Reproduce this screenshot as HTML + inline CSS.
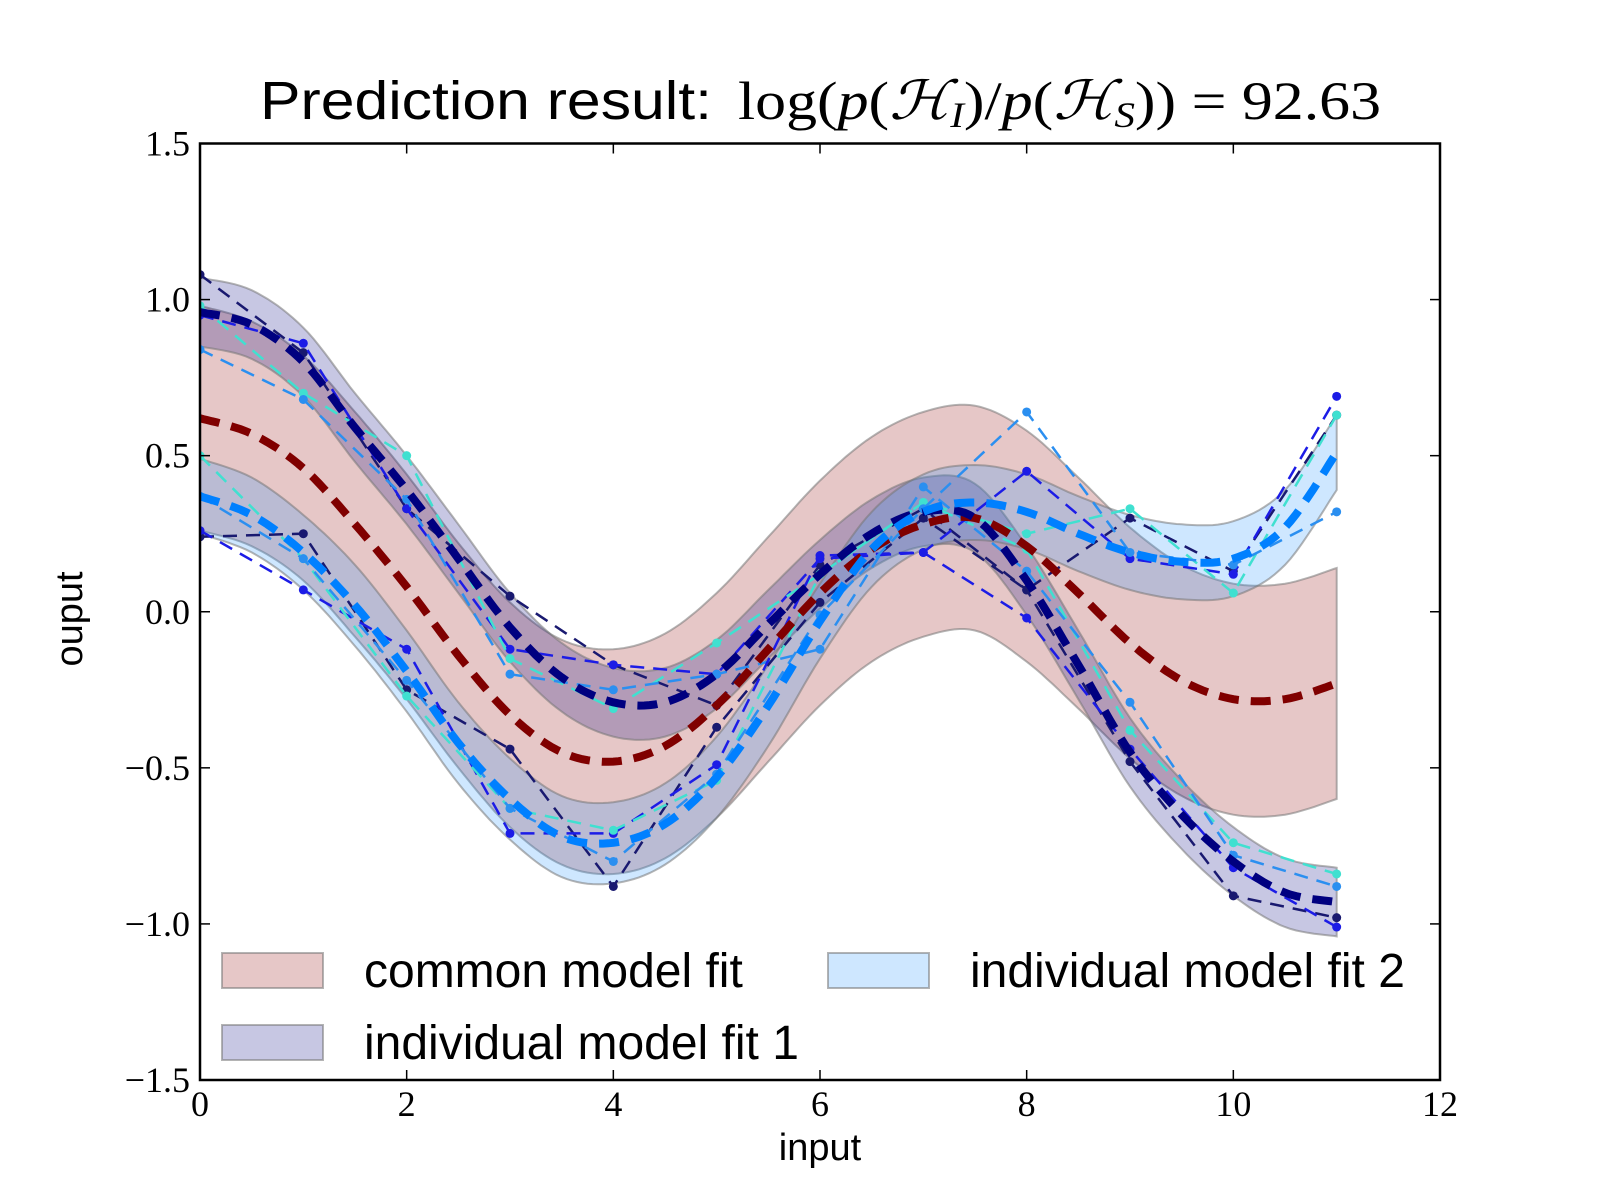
<!DOCTYPE html>
<html><head><meta charset="utf-8"><style>
html,body{margin:0;padding:0;background:#fff;}
svg{display:block;}
</style></head><body>
<svg id="chart" width="1600" height="1200" viewBox="0 0 1600 1200" xmlns="http://www.w3.org/2000/svg">
<rect width="1600" height="1200" fill="#fff"/>
<g>
<text x="260" y="119" font-family="Liberation Sans, sans-serif" font-size="54" textLength="452" lengthAdjust="spacingAndGlyphs">Prediction result:</text>
<text x="738" y="119" font-family="Liberation Serif, serif" font-size="54" textLength="643" lengthAdjust="spacingAndGlyphs">log(<tspan font-style="italic">p</tspan>(<tspan font-style="italic">ℋ</tspan><tspan font-style="italic" font-size="36" dy="8">I</tspan><tspan dy="-8">)/</tspan><tspan font-style="italic">p</tspan>(<tspan font-style="italic">ℋ</tspan><tspan font-style="italic" font-size="36" dy="8">S</tspan><tspan dy="-8">)) = 92.63</tspan></text>
</g>
<defs><clipPath id="plotclip"><rect x="200" y="143.5" width="1240" height="936.5"/></clipPath></defs>
<g id="bands" clip-path="url(#plotclip)"></g>
<g id="reps" clip-path="url(#plotclip)"></g>
<g id="means" clip-path="url(#plotclip)"></g>
<g id="axes"></g>
<g id="legend"></g>
<text x="820" y="1160" text-anchor="middle" font-family="Liberation Sans, sans-serif" font-size="38">input</text>
<text transform="translate(82,619) rotate(-90)" text-anchor="middle" font-family="Liberation Sans, sans-serif" font-size="38">ouput</text>
</svg>
<script>
const gridX = [0,0.5,1,1.5,2,2.5,3,3.5,4,4.5,5,5.5,6,6.5,7,7.5,8,8.5,9,9.5,10,10.5,11];
const commonMean = [0.62,0.57,0.46,0.28,0.08,-0.14,-0.33,-0.45,-0.48,-0.43,-0.3,-0.12,0.06,0.2,0.28,0.3,0.21,0.06,-0.1,-0.22,-0.28,-0.28,-0.23];
const commonStd = [0.36,0.36,0.36,0.36,0.36,0.36,0.36,0.36,0.36,0.36,0.36,0.36,0.36,0.36,0.36,0.36,0.37,0.37,0.37,0.37,0.37,0.37,0.37];
const model1Mean = [0.96,0.92,0.8,0.59,0.39,0.17,-0.05,-0.21,-0.29,-0.29,-0.2,-0.04,0.12,0.25,0.32,0.3,0.1,-0.17,-0.45,-0.65,-0.8,-0.9,-0.93];
const model1Std = [0.11,0.11,0.11,0.11,0.11,0.11,0.11,0.11,0.11,0.11,0.11,0.11,0.11,0.11,0.11,0.11,0.11,0.11,0.11,0.11,0.11,0.11,0.11];
const model2Mean = [0.37,0.31,0.19,0.02,-0.19,-0.42,-0.6,-0.72,-0.74,-0.68,-0.53,-0.3,-0.03,0.2,0.32,0.35,0.32,0.25,0.19,0.16,0.17,0.27,0.51];
const model2Std = [0.12,0.12,0.12,0.13,0.13,0.13,0.13,0.13,0.13,0.13,0.13,0.13,0.12,0.12,0.12,0.12,0.12,0.12,0.12,0.12,0.12,0.12,0.12];
const obsX = [0,1,2,3,4,5,6,7,8,9,10,11];
const m1r1 = [1.08,0.83,0.33,0.05,-0.17,-0.3,0.15,0.33,0.07,-0.48,-0.91,-0.98];
const m1r2 = [0.95,0.86,0.33,-0.12,-0.17,-0.2,0.17,0.19,-0.02,-0.44,-0.82,-1.01];
const m1r3 = [0.98,0.7,0.5,-0.15,-0.31,-0.1,0.12,0.35,0.2,-0.38,-0.74,-0.84];
const m1r4 = [0.84,0.68,0.36,-0.2,-0.25,-0.2,-0.12,0.4,0.13,-0.29,-0.78,-0.88];
const m2r1 = [0.24,0.25,-0.25,-0.44,-0.88,-0.37,0.03,0.3,0.07,0.3,0.13,0.63];
const m2r2 = [0.26,0.07,-0.12,-0.71,-0.71,-0.49,0.18,0.19,0.45,0.17,0.12,0.69];
const m2r3 = [0.5,0.17,-0.27,-0.63,-0.7,-0.54,0.12,0.35,0.25,0.33,0.06,0.63];
const m2r4 = [0.37,0.17,-0.22,-0.63,-0.8,-0.52,-0.01,0.33,0.64,0.19,0.15,0.32];
const xTicks = [0,2,4,6,8,10,12];
const xTickLabels = ["0","2","4","6","8","10","12"];
const yTicks = [-1.5,-1.0,-0.5,0.0,0.5,1.0,1.5];
const yTickLabels = ["\u22121.5","\u22121.0","\u22120.5","0.0","0.5","1.0","1.5"];

const L=200,R=1440,T=143.5,B=1080;
const sx = v => L + (v-0)/(12-0)*(R-L);
const sy = v => B - (v-(-1.5))/(3)*(B-T);
const NS='http://www.w3.org/2000/svg';
function mk(tag, attrs, parent){const e=document.createElementNS(NS,tag);for(const k in attrs)e.setAttribute(k,attrs[k]);parent.appendChild(e);return e;}
function smoothPts(xs, ys){
  const out=[];
  for(let i=0;i<xs.length-1;i++){
    const p0=[xs[Math.max(i-1,0)],ys[Math.max(i-1,0)]],p1=[xs[i],ys[i]],p2=[xs[i+1],ys[i+1]],p3=[xs[Math.min(i+2,xs.length-1)],ys[Math.min(i+2,xs.length-1)]];
    for(let s=0;s<10;s++){const t=s/10,t2=t*t,t3=t2*t;
      const f=(a,b,c,d)=>0.5*((2*b)+(-a+c)*t+(2*a-5*b+4*c-d)*t2+(-a+3*b-3*c+d)*t3);
      out.push([f(p0[0],p1[0],p2[0],p3[0]),f(p0[1],p1[1],p2[1],p3[1])]);}
  }
  out.push([xs[xs.length-1],ys[ys.length-1]]);
  return out;
}
const toPath = pts => pts.map((p,i)=>(i?'L':'M')+sx(p[0]).toFixed(1)+','+sy(p[1]).toFixed(1)).join('');

const bands=document.getElementById('bands');
function band(mean,std,color,name){
  const up=smoothPts(gridX,mean.map((m,i)=>m+std[i]));
  const lo=smoothPts(gridX,mean.map((m,i)=>m-std[i])).reverse();
  const p=mk('path',{d:toPath(up)+toPath(lo).replace('M','L')+'Z',fill:color,'fill-opacity':0.22,stroke:'#777','stroke-opacity':0.55,'stroke-width':2},bands);
  
  
}
band(commonMean,commonStd,'#8b0000','common-model-band');
band(model1Mean,model1Std,'#000080','individual-model-1-band');
band(model2Mean,model2Std,'#1e90ff','individual-model-2-band');

const reps=document.getElementById('reps');
const repSets=[[m1r1,'#191970'],[m1r2,'#1c1ce6'],[m1r3,'#40e0d0'],[m1r4,'#2b8ff0'],[m2r1,'#191970'],[m2r2,'#1c1ce6'],[m2r3,'#40e0d0'],[m2r4,'#2b8ff0']];
repSets.forEach((rs,k)=>{
  const g=mk('g',{},reps);
  
  
  const d=rs[0].map((v,i)=>(i?'L':'M')+sx(obsX[i]).toFixed(1)+','+sy(v).toFixed(1)).join('');
  mk('path',{d:d,fill:'none',stroke:rs[1],'stroke-width':2.5,'stroke-dasharray':'14 9'},g);
  rs[0].forEach((v,i)=>{
    const c=mk('circle',{cx:sx(obsX[i]),cy:sy(v),r:4.5,fill:rs[1]},g);
    
    
  });
});

const means=document.getElementById('means');
function meanLine(mean,color,name){
  const p=mk('path',{d:toPath(smoothPts(gridX,mean)),fill:'none',stroke:color,'stroke-width':8,'stroke-dasharray':'20 12'},means);
  
  
}
meanLine(commonMean,'#800000','common-model-mean');
meanLine(model1Mean,'#000080','individual-model-1-mean');
meanLine(model2Mean,'#0080ff','individual-model-2-mean');

const axes=document.getElementById('axes');
const frame=mk('rect',{x:L,y:T,width:R-L,height:B-T,fill:'none',stroke:'#000','stroke-width':2.5},axes);


xTicks.forEach((v,i)=>{
  const x=sx(v);
  mk('line',{x1:x,y1:B,x2:x,y2:B-10,stroke:'#000','stroke-width':1.5},axes);
  mk('line',{x1:x,y1:T,x2:x,y2:T+10,stroke:'#000','stroke-width':1.5},axes);
  const t=mk('text',{x:x,y:B+36,'text-anchor':'middle','font-family':'Liberation Serif, serif','font-size':36},axes);
  t.textContent=xTickLabels[i];
  
  
});
yTicks.forEach((v,i)=>{
  const y=sy(v);
  mk('line',{x1:L,y1:y,x2:L+10,y2:y,stroke:'#000','stroke-width':1.5},axes);
  mk('line',{x1:R,y1:y,x2:R-10,y2:y,stroke:'#000','stroke-width':1.5},axes);
  const t=mk('text',{x:L-10,y:y+12,'text-anchor':'end','font-family':'Liberation Serif, serif','font-size':36},axes);
  t.textContent=yTickLabels[i];
  
  
});

const legend=document.getElementById('legend');
const legItems=[['common model fit','#8b0000',222,953,364],['individual model fit 2','#1e90ff',828,953,970],['individual model fit 1','#000080',222,1025,364]];
legItems.forEach(it=>{
  const g=mk('g',{},legend);
  
  
  mk('rect',{x:it[2],y:it[3],width:101,height:35,fill:it[1],'fill-opacity':0.22,stroke:'#777','stroke-opacity':0.55,'stroke-width':2},g);
  const t=mk('text',{x:it[4],y:it[3]+34,'font-family':'Liberation Sans, sans-serif','font-size':48},g);
  t.textContent=it[0];
});
</script>
</body></html>
